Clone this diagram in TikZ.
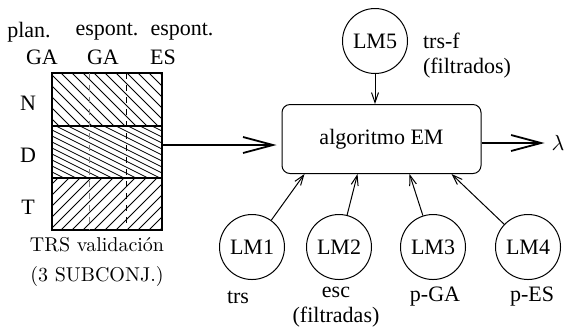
\documentclass[tikz,border=0pt]{standalone}
\usepackage{fontspec}
\newfontfamily\tms{Liberation Serif}
\usetikzlibrary{arrows.meta,positioning,calc}

\begin{document}
\begin{tikzpicture}[x=0.5pt,y=-0.5pt]
        \tikzstyle{every node}=[font=\tms\fontsize{11}{12.5}\selectfont]
        \tikzstyle{lm}=[draw,circle,minimum size=32.5pt,inner sep=0pt,line width=0.5pt]
        \tikzstyle{emblock}=[draw,rounded corners=4pt,minimum width=99.5pt,minimum height=34.5pt,line width=0.5pt]
        \tikzstyle{bigarrow}=[-{Straight Barb[length=15pt,width=8pt]},line width=0.9pt]
        \tikzstyle{smallarrow}=[-{Straight Barb[length=5pt,width=3.5pt]},line width=0.5pt]
        \tikzstyle{hatch}=[line width=0.4pt]
        \useasboundingbox (0,0) rectangle (571,329);

        %%% Validation set
        \node (plan) at (29,32) {plan.};
        \node (ga1) at (42,57) {GA};
        \node (espont1) at (107,32) {espont.};
        \node (ga2) at (103,57) {GA};
        \node (espont2) at (182,32) {espont.};
        \node (es) at (163,57) {ES};

        \node (rowN) at (28,103) {N};
        \node (rowD) at (28,155) {D};
        \node (rowT) at (28,207) {T};

        \begin{scope}
            \clip (52,73) rectangle (162,126);
            \foreach \x in {-60,-49,...,170}
                \draw[hatch] (\x,73) -- ++(53,53);
        \end{scope}
        \begin{scope}
            \clip (52,126) rectangle (162,178);
            \foreach \y in {70,76,...,180}
                \draw[hatch] (52,\y) -- ++(110,55);
        \end{scope}
        \begin{scope}
            \clip (52,178) rectangle (162,230);
            \foreach \x in {-60,-49,...,170}
                \draw[hatch] (\x,230) -- ++(52,-52);
        \end{scope}

        \node[draw,line width=0.7pt,minimum width=55pt,minimum height=78.5pt,inner sep=0pt] (trs) at (107,151.5) {};
        \draw[line width=0.7pt] (52,126) -- (162,126);
        \draw[line width=0.7pt] (52,178) -- (162,178);
        \draw[dashed,gray,line width=0.5pt] (89,73) -- (89,230);
        \draw[dashed,line width=0.5pt] (126,73) -- (126,230);

        \node[font=\rmfamily,align=center] (trslabel) at (97,262) {TRS validación\\[3pt](3 SUBCONJ.)};

        %%% EM block
        \node[emblock] (em) at (381.5,139) {algoritmo EM};
        \coordinate (trsout) at (162,145);
        \draw[bigarrow] (trsout) -- ([xshift=-2.5pt]trsout -| em.west);
        \node (lambda) at (558,143) {$\lambda$};
        \draw[bigarrow] (em.east |- lambda) -- (lambda.west);

        %%% Language models
        \node[lm] (lm5) at (375,41) {LM5};
        \node[align=left,anchor=west] (lm5lbl) at (416,56) {trs-f\\(filtrados)};
        \draw[smallarrow] (lm5) -- (lm5 |- em.north);

        \node[lm] (lm1) at (252,247) {LM1};
        \node[lm] (lm2) at (339,247) {LM2};
        \node[lm] (lm3) at (433,247) {LM3};
        \node[lm] (lm4) at (528,247) {LM4};

        \node (lm1lbl) at (238,297) {trs};
        \node[align=center] (lm2lbl) at (336,307) {esc\\(filtradas)};
        \node (lm3lbl) at (435,297) {p-GA};
        \node (lm4lbl) at (532,297) {p-ES};

        \draw[smallarrow] (lm1) -- ([xshift=11.5pt]em.south west);
        \draw[smallarrow] (lm2) -- ([xshift=38pt]em.south west);
        \draw[smallarrow] (lm3) -- ([xshift=64pt]em.south west);
        \draw[smallarrow] (lm4) -- ([xshift=85pt]em.south west);
\end{tikzpicture}
\end{document}
